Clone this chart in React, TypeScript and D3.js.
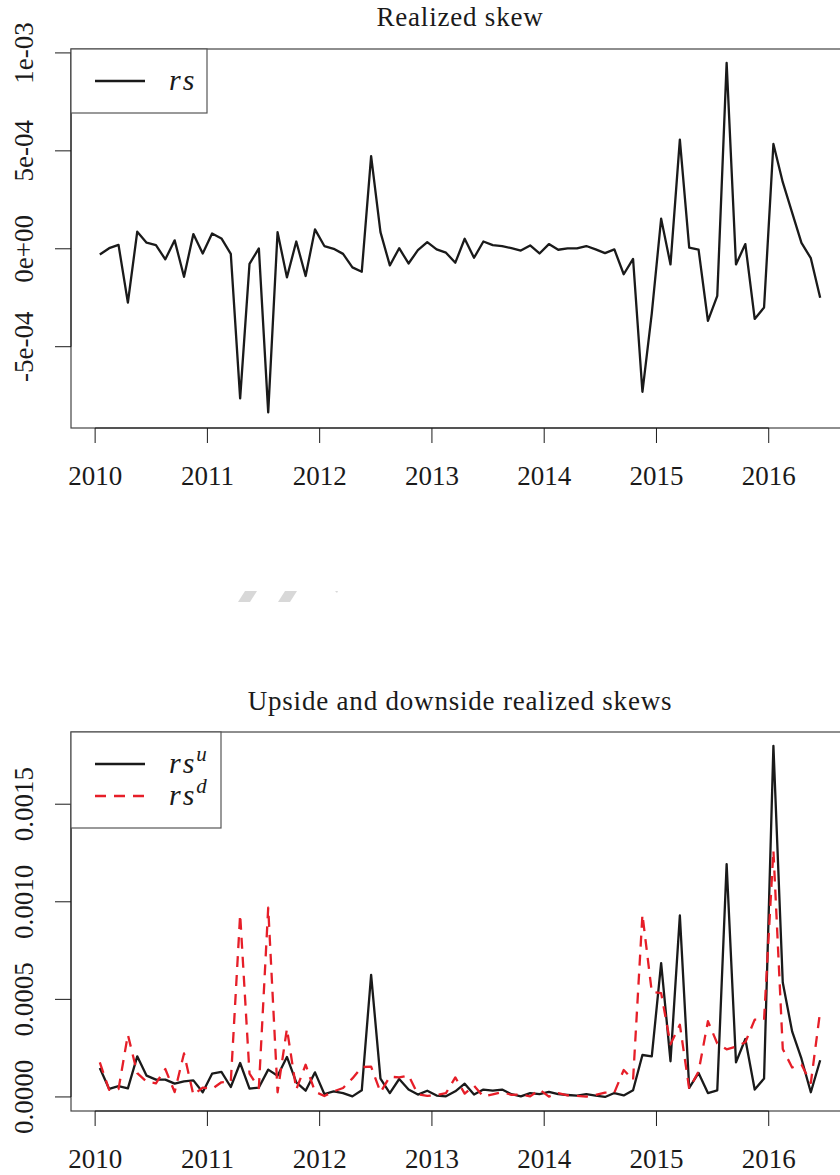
import { line, scaleLinear } from 'd3'

const width = 840
const height = 1175

// monthly observations, Jan 2010 .. Jun 2016 (values in units of 1e-4)
const startYear = 2010
const years = [2010, 2011, 2012, 2013, 2014, 2015, 2016]

const rs = [
  -0.29, 0.03, 0.2, -2.75, 0.87, 0.31, 0.19, -0.54, 0.43, -1.43, 0.75, -0.24,
  0.78, 0.53, -0.26, -7.64, -0.77, 0.02, -8.35, 0.85, -1.46, 0.37, -1.39, 0.99,
  0.14, 0, -0.26, -0.95, -1.17, 4.73, 0.85, -0.85, 0.03, -0.75, -0.07, 0.34,
  -0.03, -0.2, -0.71, 0.51, -0.46, 0.37, 0.19, 0.14, 0.03, -0.09, 0.17, -0.24,
  0.24, -0.05, 0.02, 0.02, 0.14, -0.03, -0.22, -0.03, -1.3, -0.52, -7.3, -3.3,
  1.54, -0.8, 5.57, 0.06, -0.04, -3.68, -2.4, 9.49, -0.8, 0.24, -3.58, -3.0,
  5.35, 3.4, 1.85, 0.3, -0.48, -2.5,
]

const rsUp = [
  1.48, 0.41, 0.55, 0.44, 2.08, 1.09, 0.89, 0.89, 0.68, 0.8, 0.85, 0.24,
  1.19, 1.28, 0.51, 1.74, 0.43, 0.48, 1.4, 1.09, 2.05, 0.75, 0.32, 1.26,
  0.15, 0.29, 0.2, 0.03, 0.34, 6.26, 0.94, 0.2, 0.92, 0.38, 0.12, 0.32,
  0.07, 0.03, 0.29, 0.68, 0.12, 0.38, 0.32, 0.38, 0.14, 0.03, 0.2, 0.14,
  0.26, 0.14, 0.1, 0.07, 0.14, 0.07, 0.0, 0.2, 0.08, 0.34, 2.15, 2.08,
  6.86, 1.83, 9.3, 0.46, 1.23, 0.2, 0.34, 11.93, 1.77, 2.97, 0.38, 0.94,
  17.99, 5.86, 3.36, 1.96, 0.24, 1.88,
]

const rsDown = [
  1.77, 0.36, 0.4, 3.19, 1.22, 0.78, 0.7, 1.43, 0.25, 2.23, 0.1, 0.48,
  0.41, 0.75, 0.77, 9.35, 1.2, 0.46, 9.7, 0.24, 3.5, 0.38, 1.65, 0.27,
  0.05, 0.29, 0.46, 0.95, 1.53, 1.55, 0.24, 1.04, 1.0, 1.1, 0.14, 0.05,
  0.1, 0.2, 1.0, 0.17, 0.58, 0.02, 0.13, 0.24, 0.11, 0.12, 0.03, 0.38,
  0.02, 0.19, 0.08, 0.05, 0.02, 0.1, 0.22, 0.23, 1.38, 0.88, 9.35, 5.38,
  5.32, 2.7, 3.7, 0.42, 1.3, 3.88, 2.74, 2.44, 2.58, 2.8, 3.96, 3.95,
  12.64, 2.46, 1.51, 1.66, 0.72, 4.4,
]

const topTicks = [-5e-4, 0, 5e-4, 1e-3]
const topTickLabels = ['-5e-04', '0e+00', '5e-04', '1e-03']
const bottomTicks = [0, 5e-4, 1e-3, 1.5e-3]
const bottomTickLabels = ['0.0000', '0.0005', '0.0010', '0.0015']

const font = 'Liberation Serif'
const red = '#e61e28'
const ink = '#1a1a1a'

const left = 71
const right = 849

const x = scaleLinear().domain([2009.785, 2016.715]).range([left, right])
const dates = rs.map((_, i) => startYear + (i + 0.5) / 12)

function Panel({ top, bottom, domain, title, titleY, ticks, tickLabels, series, legend }) {
  const y = scaleLinear().domain(domain).range([bottom, top])
  const path = line()
    .x((d) => x(d[0]))
    .y((d) => y(d[1]))
  const tickLen = 15
  return (
    <g>
      <text
        x={460}
        y={titleY}
        textAnchor="middle"
        fontSize={27}
        letterSpacing={0.8}
        fontFamily={font}
        fill={ink}
      >
        {title}
      </text>
      {series.map((s) => (
        <path
          key={s.key}
          d={path(s.values.map((v, i) => [dates[i], v * 1e-4]))}
          fill="none"
          stroke={s.color}
          strokeWidth={2.3}
          strokeDasharray={s.dash}
          strokeLinejoin="round"
        />
      ))}
      <rect x={left} y={top} width={right - left} height={bottom - top} fill="none" stroke="#444" strokeWidth={1.2} />
      {/* y axis */}
      <line x1={left} x2={left} y1={y(ticks[0])} y2={y(ticks[ticks.length - 1])} stroke={ink} />
      {ticks.map((t, i) => (
        <g key={t} transform={`translate(0,${y(t)})`}>
          <line x1={left - 16} x2={left} stroke={ink} />
          <text
            transform={`translate(33,0) rotate(-90)`}
            textAnchor="middle"
            fontSize={27}
            fontFamily={font}
            fill={ink}
          >
            {tickLabels[i]}
          </text>
        </g>
      ))}
      {/* x axis */}
      <line x1={x(years[0])} x2={x(years[years.length - 1])} y1={bottom} y2={bottom} stroke={ink} />
      {years.map((yr) => (
        <g key={yr} transform={`translate(${x(yr)},0)`}>
          <line y1={bottom} y2={bottom + tickLen} stroke={ink} />
          <text y={bottom + 57} textAnchor="middle" fontSize={27} fontFamily={font} fill={ink}>
            {yr}
          </text>
        </g>
      ))}
      {/* legend */}
      <rect x={left} y={top} width={legend.w} height={legend.h} fill="white" stroke="#555" strokeWidth={1.2} />
      {series.map((s, i) => (
        <g key={s.key} transform={`translate(0,${top + legend.first + i * 32})`}>
          <line x1={95} x2={145} stroke={s.color} strokeWidth={2.3} strokeDasharray={s.dash} />
          <text
            x={169}
            y={9}
            fontSize={30}
            letterSpacing={2}
            fontStyle="italic"
            fontFamily={font}
            fill={ink}
          >
            rs
            {s.sup && (
              <tspan dy={-12} fontSize={21} letterSpacing={0}>
                {s.sup}
              </tspan>
            )}
          </text>
        </g>
      ))}
    </g>
  )
}

export default function App() {
  return (
    <svg
      width={width}
      height={height}
      style={{ position: 'absolute', left: 0, top: 0, background: 'white' }}
    >
      <rect width={width} height={height} fill="white" />
      <Panel
        top={49}
        bottom={428}
        domain={[-9.15e-4, 10.2e-4]}
        title="Realized skew"
        titleY={26}
        ticks={topTicks}
        tickLabels={topTickLabels}
        series={[{ key: 'rs', values: rs, color: ink }]}
        legend={{ w: 136, h: 64, first: 32 }}
      />
      <g fill="#d8d8d8">
        <polygon points="238,602 250,602 257,591 245,591" />
        <polygon points="278,602 290,602 297,591 285,591" />
        <polygon points="335,591 338,591 337,593" />
      </g>
      <Panel
        top={732}
        bottom={1111}
        domain={[-0.72e-4, 18.7e-4]}
        title="Upside and downside realized skews"
        titleY={710}
        ticks={bottomTicks}
        tickLabels={bottomTickLabels}
        series={[
          { key: 'up', values: rsUp, color: ink, sup: 'u' },
          { key: 'down', values: rsDown, color: red, dash: '11 8', sup: 'd' },
        ]}
        legend={{ w: 150, h: 96, first: 32 }}
      />
    </svg>
  )
}
